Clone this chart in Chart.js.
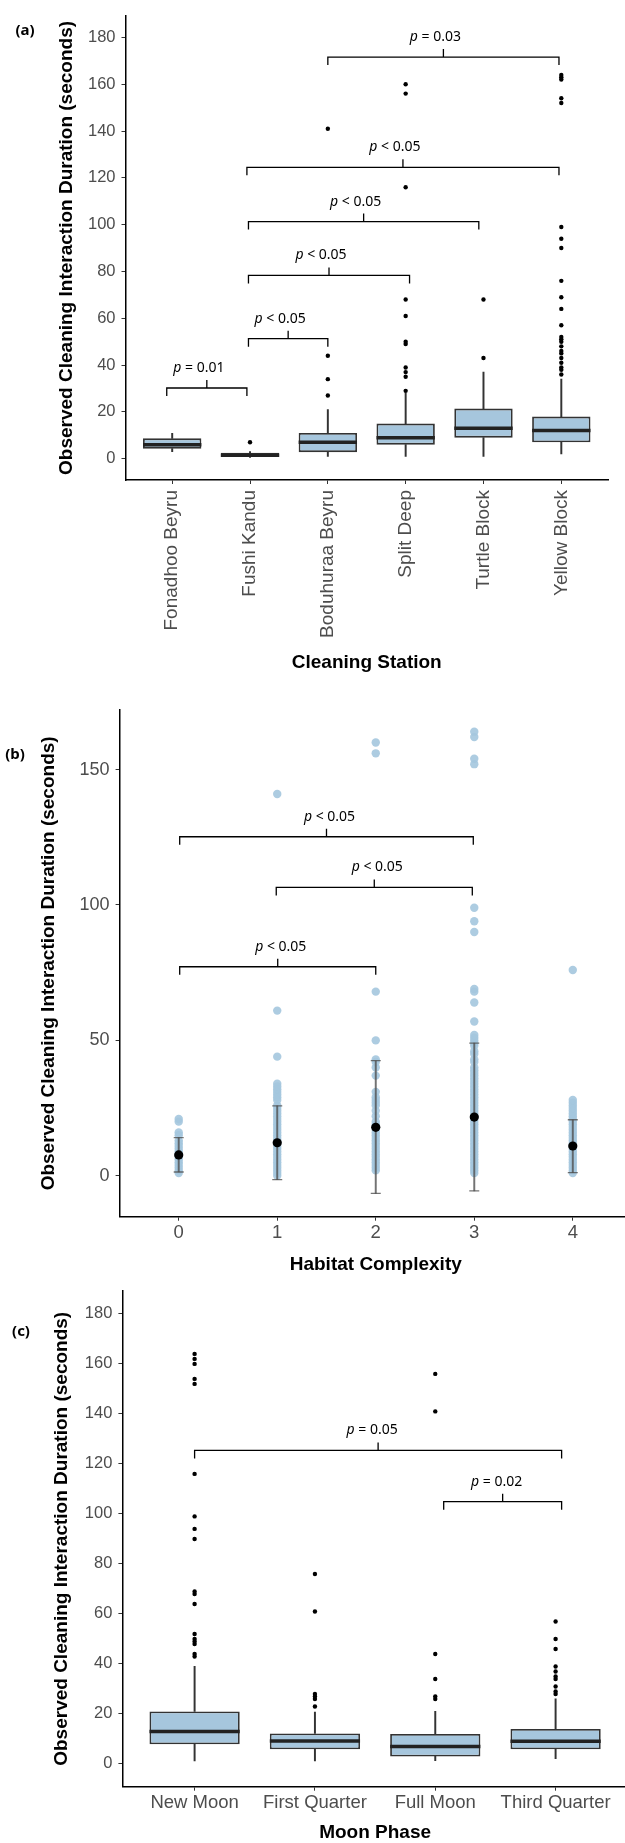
<!DOCTYPE html>
<html>
<head>
<meta charset="utf-8">
<script src="https://cdn.jsdelivr.net/npm/chart.js@4.4.1/dist/chart.umd.min.js"></script>
<style>
  html, body { margin: 0; padding: 0; background: #fff; width: 625px; height: 1843px; overflow: hidden; position: relative; }
  canvas { position: absolute; left: 0; }
</style>
</head>
<body>
<canvas id="chartA" width="640" height="690" style="top:0px"></canvas>
<canvas id="chartB" width="640" height="590" style="top:690px"></canvas>
<canvas id="chartC" width="640" height="575" style="top:1275px"></canvas>
<script>
// ---- data ----
const yTitle = 'Observed Cleaning Interaction Duration (seconds)'

// (a) cleaning stations, box plot stats
const stationNames = ['Fonadhoo Beyru', 'Fushi Kandu', 'Boduhuraa Beyru', 'Split Deep', 'Turtle Block', 'Yellow Block']
const stationLow = [3, 0.5, 1, 1, 1, 2]
const stationQ1 = [4.3, 0.8, 2.8, 6, 9, 7]
const stationMedian = [6, 1.5, 7, 9, 13, 12]
const stationQ3 = [8.7, 2.5, 11, 15, 21.4, 18]
const stationHigh = [10.8, 3, 21, 28, 37, 34]
const stationOutliers = [
    [],
    [7],
    [27, 34, 44, 141],
    [29, 35, 37, 39, 49, 50, 61, 68, 116, 156, 160],
    [43, 68],
    [36, 38, 39, 41, 43, 45, 46, 48, 50, 51, 52, 57, 64, 69, 76, 90, 94, 99, 152, 154, 162, 163, 164]
]
const stationTicks = [0, 20, 40, 60, 80, 100, 120, 140, 160, 180]
const stationBracketFrom = [-0.07, 0.98, 0.98, 0.98, 0.96, 2.0]
const stationBracketTo = [0.96, 2.0, 3.05, 3.94, 4.97, 4.97]
const stationBracketLevel = [30.2, 51.3, 78.3, 101.3, 124.5, 171.6]
const stationBracketText = ['= 0.01', '< 0.05', '< 0.05', '< 0.05', '< 0.05', '= 0.03']

// (b) habitat complexity, raw points + mean and sd
const complexityLevels = ['0', '1', '2', '3', '4']
const complexityPoints = [
    [1, 2, 3, 4, 5, 6, 7, 8, 9, 10, 11, 12, 13, 15, 16, 20, 21],
    [0, 1, 2, 3, 4, 5, 6, 7, 8, 9, 10, 11, 12, 13, 14, 15, 16, 17, 18, 19, 20, 21, 22, 23, 24, 25, 26, 28, 29, 30, 31, 32, 33, 34, 44, 61, 141],
    [2, 3, 4, 5, 6, 7, 8, 9, 10, 11, 12, 13, 14, 15, 16, 17, 18, 19, 20, 22, 24, 26, 27, 28, 29, 31, 37, 40, 42, 43, 50, 68, 156, 160],
    [1, 2, 3, 4, 5, 6, 7, 8, 9, 10, 11, 12, 13, 14, 15, 16, 17, 18, 19, 20, 21, 22, 23, 24, 25, 26, 27, 28, 29, 30, 31, 32, 33, 34, 35, 36, 37, 38, 39, 40, 42, 43, 45, 46, 48, 49, 50, 51, 52, 57, 64, 68, 69, 90, 94, 99, 152, 154, 162, 164],
    [1, 2, 3, 4, 5, 6, 7, 8, 9, 10, 11, 12, 13, 14, 15, 16, 17, 18, 19, 20, 21, 22, 23, 24, 25, 26, 27, 28, 76]
]
const complexityMean = [7.7, 12.2, 17.9, 21.7, 11]
const complexitySdLow = [1.4, -1.4, -6.5, -5.6, 1.2]
const complexitySdHigh = [14.1, 25.8, 42.5, 49, 20.7]
const complexityTicks = [0, 50, 100, 150]
const complexityBracketFrom = [0.01, 0.99, 0.01]
const complexityBracketTo = [2.99, 2.98, 2.0]
const complexityBracketLevel = [125.2, 106.5, 77.2]
const complexityBracketText = ['< 0.05', '< 0.05', '< 0.05']

// (c) moon phase, box plot stats
const moonPhases = ['New Moon', 'First Quarter', 'Full Moon', 'Third Quarter']
const moonLow = [1.2, 1.2, 1.3, 2.1]
const moonQ1 = [7.9, 5.9, 3, 5.9]
const moonMedian = [13, 9.2, 7, 9.1]
const moonQ3 = [21, 12.2, 12, 14]
const moonHigh = [39, 20.7, 21, 26]
const moonOutliers = [
    [43, 44, 48, 49, 50, 52, 64, 68, 69, 90, 94, 99, 116, 152, 154, 160, 162, 164],
    [23, 26, 27, 28, 61, 76],
    [26, 27, 34, 44, 141, 156],
    [28, 29, 31, 34, 35, 37, 39, 46, 50, 57]
]
const moonTicks = [0, 20, 40, 60, 80, 100, 120, 140, 160, 180]
const moonBracketFrom = [0, 2.07]
const moonBracketTo = [3.05, 3.05]
const moonBracketLevel = [125.4, 104.9]
const moonBracketText = ['= 0.05', '= 0.02']

// ---- style ----
Chart.defaults.font.family = '"Liberation Sans", Arial, sans-serif'
Chart.defaults.animation = false
const boxFill = '#a6c6dd'
const boxLine = '#333333'

// brackets with p values + panel tag
const annotate = {
    id: 'annotate',
    afterDraw(chart, args, opts) {
        const ctx = chart.ctx
        const x = chart.scales.x
        const y = chart.scales.y
        ctx.save()
        ctx.strokeStyle = '#000'
        ctx.lineWidth = 1.3
        ctx.fillStyle = '#000'
        ctx.textBaseline = 'alphabetic'
        for (let i = 0; i < opts.from.length; i++) {
            const x1 = x.getPixelForValue(opts.from[i])
            const x2 = x.getPixelForValue(opts.to[i])
            const yy = y.getPixelForValue(opts.level[i])
            const xm = (x1 + x2) / 2
            ctx.beginPath()
            ctx.moveTo(x1, yy + 8); ctx.lineTo(x1, yy); ctx.lineTo(x2, yy); ctx.lineTo(x2, yy + 8)
            ctx.moveTo(xm, yy); ctx.lineTo(xm, yy - 8)
            ctx.stroke()
            const italic = 'italic 14px "Noto Sans"'
            const normal = '14px "Noto Sans"'
            const rest = ' ' + opts.text[i]
            ctx.font = italic
            const w1 = ctx.measureText('p').width
            ctx.font = normal
            const w2 = ctx.measureText(rest).width
            const start = xm + opts.shift - (w1 + w2) / 2
            ctx.font = italic
            ctx.fillText('p', start, yy - 16)
            ctx.font = normal
            ctx.fillText(rest, start + w1, yy - 16)
        }
        ctx.font = 'bold 15px "Noto Sans"'
        ctx.textAlign = 'center'
        ctx.textBaseline = 'middle'
        ctx.fillText(opts.tag, opts.tagX, opts.tagY)
        ctx.restore()
    }
}

function yAxis(min, max, ticks, width, size) {
    return {
        type: 'linear', min: min, max: max,
        afterBuildTicks: s => { s.ticks = ticks.map(v => ({value: v})) },
        afterFit: s => { s.width = width },
        ticks: {color: '#4d4d4d', font: {size: size}, padding: 6, autoSkip: false},
        grid: {drawOnChartArea: false, tickLength: 4, tickColor: '#333', tickWidth: 1},
        border: {color: '#000', width: 1.5},
        title: {display: true, text: yTitle, color: '#000', font: {size: 19, weight: 'bold'}, padding: 0}
    }
}

function xAxis(names, min, max, height, rotate, pad, title) {
    return {
        type: 'linear', min: min, max: max, offset: false,
        afterBuildTicks: s => { s.ticks = names.map((_, i) => ({value: i})) },
        afterFit: s => { s.height = height },
        ticks: {
            callback: v => names[v], autoSkip: false, color: '#4d4d4d', font: {size: rotate ? 19 : 18.5}, padding: pad,
            minRotation: rotate ? 90 : 0, maxRotation: rotate ? 90 : 0
        },
        grid: {drawOnChartArea: false, offset: false, tickLength: 4, tickColor: '#333', tickWidth: 1},
        border: {color: '#000', width: 1.5},
        title: {display: true, text: title, color: '#000', font: {size: 19, weight: 'bold'}, padding: 0}
    }
}

function boxDatasets(low, q1, med, q3, high, outliers) {
    const idx = med.map((_, i) => i)
    const halfBox = c => {
        const s = c.chart.scales.x
        return (s.getPixelForValue(1) - s.getPixelForValue(0)) * 0.375
    }
    return [
        {
            type: 'scatter', order: 1,
            data: outliers.flatMap((vals, i) => vals.map(v => ({x: i, y: v}))),
            pointRadius: 2.2, pointBackgroundColor: '#000', pointBorderWidth: 0
        },
        {
            type: 'scatter', order: 2,
            data: idx.map(i => ({x: i, y: med[i]})),
            pointStyle: 'line', pointRadius: halfBox, pointBorderColor: '#222', pointBorderWidth: 3.5
        },
        {
            type: 'bar', order: 3, grouped: false, barPercentage: 1, categoryPercentage: 0.75,
            data: idx.map(i => ({x: i, y: [q1[i], q3[i]]})),
            backgroundColor: boxFill, borderColor: boxLine, borderWidth: 1.8, borderSkipped: false
        },
        {
            type: 'bar', order: 4, grouped: false, barThickness: 1.3,
            data: idx.map(i => ({x: i, y: [low[i], q1[i]]})),
            backgroundColor: boxLine, borderWidth: 0
        },
        {
            type: 'bar', order: 4, grouped: false, barThickness: 1.3,
            data: idx.map(i => ({x: i, y: [q3[i], high[i]]})),
            backgroundColor: boxLine, borderWidth: 0
        }
    ]
}

const commonPlugins = {legend: {display: false}, tooltip: {enabled: false}}

// (a)
new Chart(document.getElementById('chartA'), {
    type: 'bar',
    data: {datasets: boxDatasets(stationLow, stationQ1, stationMedian, stationQ3, stationHigh, stationOutliers)},
    options: {
        responsive: false, devicePixelRatio: 1, events: [],
        layout: {padding: {left: 55.6, top: 10, right: 32, bottom: 15.6}},
        scales: {
            x: xAxis(stationNames, -0.6, 5.6, 194.4, true, 6, 'Cleaning Station'),
            y: yAxis(-9.1, 189.2, stationTicks, 69.9, 16.5)
        },
        plugins: Object.assign({
            annotate: {from: stationBracketFrom, to: stationBracketTo, level: stationBracketLevel, text: stationBracketText,
                shift: -8, tag: '(a)', tagX: 25, tagY: 31}
        }, commonPlugins)
    },
    plugins: [annotate]
})

// (b)
new Chart(document.getElementById('chartB'), {
    type: 'bar',
    data: {
        datasets: [
            {
                type: 'scatter', order: 1,
                data: complexityMean.map((m, i) => ({x: i, y: m})),
                pointRadius: 4.6, pointBackgroundColor: '#000', pointBorderWidth: 0
            },
            {
                type: 'scatter', order: 2,
                data: complexitySdLow.map((v, i) => ({x: i, y: v})).concat(complexitySdHigh.map((v, i) => ({x: i, y: v}))),
                pointStyle: 'line', pointRadius: 5, pointBorderColor: 'rgba(80,80,80,0.8)', pointBorderWidth: 1.3
            },
            {
                type: 'bar', order: 3, grouped: false, barThickness: 1.3,
                data: complexityMean.map((m, i) => ({x: i, y: [complexitySdLow[i], complexitySdHigh[i]]})),
                backgroundColor: 'rgba(80,80,80,0.8)', borderWidth: 0
            },
            {
                type: 'scatter', order: 4,
                data: complexityPoints.flatMap((vals, i) => vals.map(v => ({x: i, y: v}))),
                pointRadius: 4.2, pointBackgroundColor: 'rgba(164,198,222,0.9)', pointBorderWidth: 0
            }
        ]
    },
    options: {
        responsive: false, devicePixelRatio: 1, events: [],
        layout: {padding: {left: 36.9, top: 20, right: 8.1, bottom: 3.6}},
        scales: {
            x: xAxis(complexityLevels, -0.6, 4.6, 59.7, false, 1.5, 'Habitat Complexity'),
            y: yAxis(-15.1, 172, complexityTicks, 82.7, 18)
        },
        plugins: Object.assign({
            annotate: {from: complexityBracketFrom, to: complexityBracketTo, level: complexityBracketLevel, text: complexityBracketText,
                shift: 3, tag: '(b)', tagX: 15, tagY: 65}
        }, commonPlugins)
    },
    plugins: [annotate]
})

// (c)
new Chart(document.getElementById('chartC'), {
    type: 'bar',
    data: {datasets: boxDatasets(moonLow, moonQ1, moonMedian, moonQ3, moonHigh, moonOutliers)},
    options: {
        responsive: false, devicePixelRatio: 1, events: [],
        layout: {padding: {left: 50.4, top: 11.6, right: 12.2, bottom: 5.6}},
        scales: {
            x: xAxis(moonPhases, -0.6, 3.6, 57.7, false, 1, 'Moon Phase'),
            y: yAxis(-9.1, 189.2, moonTicks, 72, 16.5)
        },
        plugins: Object.assign({
            annotate: {from: moonBracketFrom, to: moonBracketTo, level: moonBracketLevel, text: moonBracketText,
                shift: -6, tag: '(c)', tagX: 21, tagY: 57}
        }, commonPlugins)
    },
    plugins: [annotate]
})
</script>
</body>
</html>
